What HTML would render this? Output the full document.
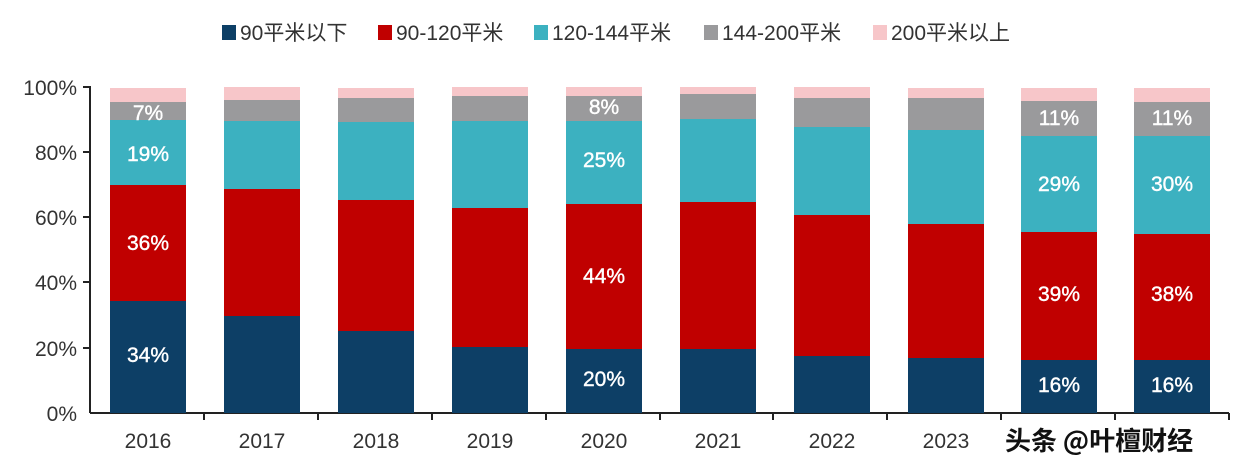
<!DOCTYPE html>
<html><head><meta charset="utf-8"><style>
body{margin:0;background:#fff;}
svg{display:block;font-family:"Liberation Sans","Noto Sans CJK SC",sans-serif;}
</style></head><body>
<svg width="1248" height="476" viewBox="0 0 1248 476" xmlns="http://www.w3.org/2000/svg">
<rect width="1248" height="476" fill="#fff"/>
<g font-size="21" fill="#333">
<rect x="222" y="25" width="14" height="15" fill="#0d3f66"/><text x="240" y="40">90平米以下</text>
<rect x="378" y="25" width="14" height="15" fill="#c00000"/><text x="396" y="40">90-120平米</text>
<rect x="534" y="25" width="14" height="15" fill="#3cb1c0"/><text x="552" y="40">120-144平米</text>
<rect x="704" y="25" width="14" height="15" fill="#9a9a9c"/><text x="722" y="40">144-200平米</text>
<rect x="873" y="25" width="14" height="15" fill="#f7c6c9"/><text x="891" y="40">200平米以上</text>
</g>
<g font-size="21" fill="#333" text-anchor="end">
<text x="77" y="95">100%</text><text x="77" y="160">80%</text><text x="77" y="225">60%</text>
<text x="77" y="290">40%</text><text x="77" y="356">20%</text><text x="77" y="421">0%</text>
</g>
<g stroke="#222" stroke-width="2">
<line x1="90" y1="86" x2="90" y2="413"/>
<line x1="83" y1="87" x2="90" y2="87"/><line x1="83" y1="152" x2="90" y2="152"/><line x1="83" y1="217" x2="90" y2="217"/>
<line x1="83" y1="282" x2="90" y2="282"/><line x1="83" y1="348" x2="90" y2="348"/>
<line x1="90" y1="413" x2="1229" y2="413"/>
<line x1="204" y1="413" x2="204" y2="420"/><line x1="318" y1="413" x2="318" y2="420"/><line x1="432" y1="413" x2="432" y2="420"/>
<line x1="546" y1="413" x2="546" y2="420"/><line x1="660" y1="413" x2="660" y2="420"/><line x1="773" y1="413" x2="773" y2="420"/>
<line x1="887" y1="413" x2="887" y2="420"/><line x1="1001" y1="413" x2="1001" y2="420"/><line x1="1115" y1="413" x2="1115" y2="420"/>
<line x1="1229" y1="413" x2="1229" y2="420"/>
</g>
<g>
<rect x="110" y="88" width="76" height="325" fill="#f7c6c9"/><rect x="110" y="102" width="76" height="311" fill="#9a9a9c"/><rect x="110" y="120" width="76" height="293" fill="#3cb1c0"/><rect x="110" y="185" width="76" height="228" fill="#c00000"/><rect x="110" y="301" width="76" height="112" fill="#0d3f66"/>
<rect x="224" y="87" width="76" height="326" fill="#f7c6c9"/><rect x="224" y="100" width="76" height="313" fill="#9a9a9c"/><rect x="224" y="121" width="76" height="292" fill="#3cb1c0"/><rect x="224" y="189" width="76" height="224" fill="#c00000"/><rect x="224" y="316" width="76" height="97" fill="#0d3f66"/>
<rect x="338" y="88" width="76" height="325" fill="#f7c6c9"/><rect x="338" y="98" width="76" height="315" fill="#9a9a9c"/><rect x="338" y="122" width="76" height="291" fill="#3cb1c0"/><rect x="338" y="200" width="76" height="213" fill="#c00000"/><rect x="338" y="331" width="76" height="82" fill="#0d3f66"/>
<rect x="452" y="87" width="76" height="326" fill="#f7c6c9"/><rect x="452" y="96" width="76" height="317" fill="#9a9a9c"/><rect x="452" y="121" width="76" height="292" fill="#3cb1c0"/><rect x="452" y="208" width="76" height="205" fill="#c00000"/><rect x="452" y="347" width="76" height="66" fill="#0d3f66"/>
<rect x="566" y="87" width="76" height="326" fill="#f7c6c9"/><rect x="566" y="96" width="76" height="317" fill="#9a9a9c"/><rect x="566" y="121" width="76" height="292" fill="#3cb1c0"/><rect x="566" y="204" width="76" height="209" fill="#c00000"/><rect x="566" y="349" width="76" height="64" fill="#0d3f66"/>
<rect x="680" y="87" width="76" height="326" fill="#f7c6c9"/><rect x="680" y="94" width="76" height="319" fill="#9a9a9c"/><rect x="680" y="119" width="76" height="294" fill="#3cb1c0"/><rect x="680" y="202" width="76" height="211" fill="#c00000"/><rect x="680" y="349" width="76" height="64" fill="#0d3f66"/>
<rect x="794" y="87" width="76" height="326" fill="#f7c6c9"/><rect x="794" y="98" width="76" height="315" fill="#9a9a9c"/><rect x="794" y="127" width="76" height="286" fill="#3cb1c0"/><rect x="794" y="215" width="76" height="198" fill="#c00000"/><rect x="794" y="356" width="76" height="57" fill="#0d3f66"/>
<rect x="908" y="88" width="76" height="325" fill="#f7c6c9"/><rect x="908" y="98" width="76" height="315" fill="#9a9a9c"/><rect x="908" y="130" width="76" height="283" fill="#3cb1c0"/><rect x="908" y="224" width="76" height="189" fill="#c00000"/><rect x="908" y="358" width="76" height="55" fill="#0d3f66"/>
<rect x="1021" y="88" width="76" height="325" fill="#f7c6c9"/><rect x="1021" y="101" width="76" height="312" fill="#9a9a9c"/><rect x="1021" y="136" width="76" height="277" fill="#3cb1c0"/><rect x="1021" y="232" width="76" height="181" fill="#c00000"/><rect x="1021" y="360" width="76" height="53" fill="#0d3f66"/>
<rect x="1134" y="88" width="76" height="325" fill="#f7c6c9"/><rect x="1134" y="102" width="76" height="311" fill="#9a9a9c"/><rect x="1134" y="136" width="76" height="277" fill="#3cb1c0"/><rect x="1134" y="234" width="76" height="179" fill="#c00000"/><rect x="1134" y="360" width="76" height="53" fill="#0d3f66"/>
</g>
<g font-size="21" fill="#fff" text-anchor="middle" stroke="#fff" stroke-width="0.4">
<text x="148" y="120">7%</text><text x="148" y="161">19%</text><text x="148" y="250">36%</text><text x="148" y="362">34%</text>
<text x="604" y="114">8%</text><text x="604" y="167">25%</text><text x="604" y="283">44%</text><text x="604" y="386">20%</text>
<text x="1059" y="125">11%</text><text x="1059" y="191">29%</text><text x="1059" y="301">39%</text><text x="1059" y="392">16%</text>
<text x="1172" y="125">11%</text><text x="1172" y="191">30%</text><text x="1172" y="301">38%</text><text x="1172" y="392">16%</text>
</g>
<g font-size="21" fill="#333" text-anchor="middle">
<text x="148" y="448">2016</text><text x="262" y="448">2017</text><text x="376" y="448">2018</text><text x="490" y="448">2019</text>
<text x="604" y="448">2020</text><text x="718" y="448">2021</text><text x="832" y="448">2022</text><text x="946" y="448">2023</text>
</g>
<text x="1005" y="450" font-size="26" font-weight="bold" fill="#111" font-family="'Noto Sans CJK SC',sans-serif">头条 @叶檀财经</text>
</svg>
</body></html>
